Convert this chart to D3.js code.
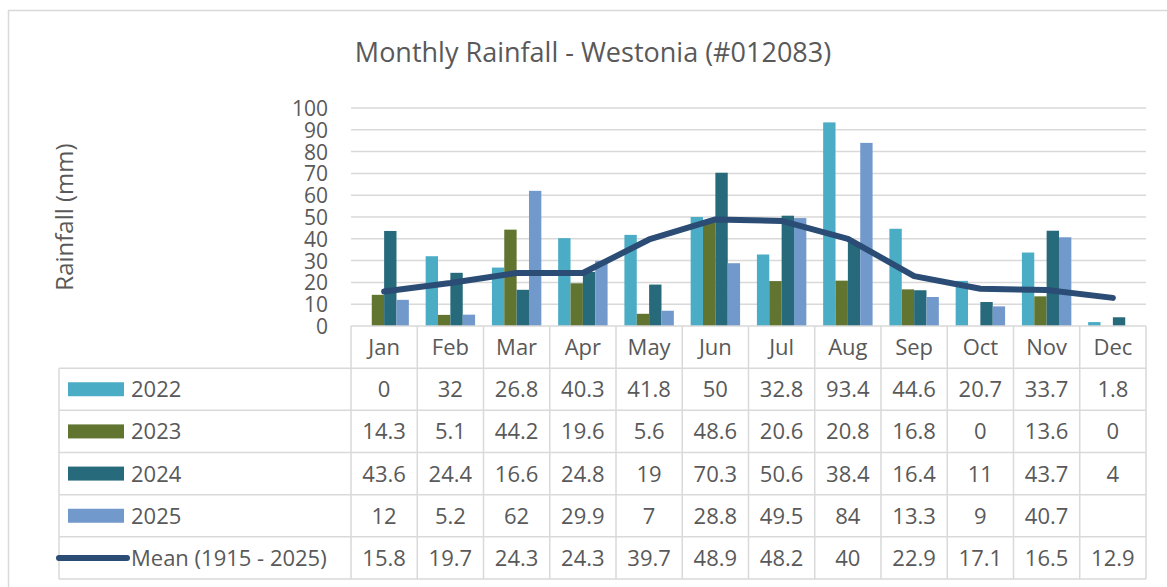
<!DOCTYPE html>
<html>
<head>
<meta charset="utf-8">
<script src="https://cdn.jsdelivr.net/npm/d3@7"></script>
<style>
  body { margin: 0; background: #fff; }
  svg text { font-family: "Open Sans", "Noto Sans", sans-serif; fill: #595959; }
</style>
</head>
<body>
<div id="container"></div>
<script>
// chart data
var months = ["Jan", "Feb", "Mar", "Apr", "May", "Jun", "Jul", "Aug", "Sep", "Oct", "Nov", "Dec"];
var barSeries = ["2022", "2023", "2024", "2025"];
var rain2022 = [0, 32, 26.8, 40.3, 41.8, 50, 32.8, 93.4, 44.6, 20.7, 33.7, 1.8];
var rain2023 = [14.3, 5.1, 44.2, 19.6, 5.6, 48.6, 20.6, 20.8, 16.8, 0, 13.6, 0];
var rain2024 = [43.6, 24.4, 16.6, 24.8, 19, 70.3, 50.6, 38.4, 16.4, 11, 43.7, 4];
var rain2025 = [12, 5.2, 62, 29.9, 7, 28.8, 49.5, 84, 13.3, 9, 40.7, null];
var meanName = "Mean (1915 - 2025)";
var meanRain = [15.8, 19.7, 24.3, 24.3, 39.7, 48.9, 48.2, 40, 22.9, 17.1, 16.5, 12.9];
var yTicks = [0, 10, 20, 30, 40, 50, 60, 70, 80, 90, 100];

var barValues = [rain2022, rain2023, rain2024, rain2025];
var colors = ["#4BACC6", "#617430", "#266A7B", "#7299CC"];
var meanColor = "#2B4C74";
var gridColor = "#D9D9D9";

var width = 1167, height = 587;
var plot = {left: 351, right: 1146, top: 108, bottom: 326};

var svg = d3.select("#container")
  .append("svg")
  .attr("width", width)
  .attr("height", height);

// outer chart frame
svg.append("path")
  .attr("d", "M8.5," + height + "V10.5H" + width)
  .attr("fill", "none")
  .attr("stroke", gridColor)
  .attr("stroke-width", 1.5);

// scales
var x = d3.scaleBand().domain(months).range([plot.left, plot.right]);
var xSub = d3.scaleBand().domain(barSeries).range([0, x.bandwidth()]).paddingOuter(0.68).paddingInner(0);
var y = d3.scaleLinear().domain([0, 100]).range([plot.bottom, plot.top]);

// gridlines
svg.append("g")
  .selectAll("line")
  .data(yTicks.slice(1))
  .enter().append("line")
  .attr("x1", plot.left).attr("x2", plot.right)
  .attr("y1", function(d) { return y(d); })
  .attr("y2", function(d) { return y(d); })
  .attr("stroke", gridColor)
  .attr("stroke-width", 1.5);

// y axis labels
var yAxis = svg.append("g")
  .attr("transform", "translate(" + (plot.left - 23) + ",0)")
  .call(d3.axisLeft(y).tickValues(yTicks).tickSize(0).tickPadding(0));
yAxis.select(".domain").remove();
yAxis.selectAll("text")
  .style("font-size", "21px")
  .style("font-family", "'Open Sans', sans-serif")
  .attr("fill", "#595959")
  .attr("dy", "0.36em");

// y axis title
svg.append("text")
  .attr("transform", "translate(73,217) rotate(-90)")
  .attr("text-anchor", "middle")
  .style("font-size", "24px")
  .text("Rainfall (mm)");

// chart title
svg.append("text")
  .attr("x", 593)
  .attr("y", 62)
  .attr("text-anchor", "middle")
  .style("font-size", "27px")
  .text("Monthly Rainfall - Westonia (#012083)");

// bars
barSeries.forEach(function(s, i) {
  svg.append("g")
    .selectAll("rect")
    .data(months.map(function(m, j) { return {month: m, value: barValues[i][j]}; })
      .filter(function(d) { return d.value != null && d.value > 0; }))
    .enter().append("rect")
    .attr("x", function(d) { return x(d.month) + xSub(s); })
    .attr("width", xSub.bandwidth())
    .attr("y", function(d) { return y(d.value); })
    .attr("height", function(d) { return y(0) - y(d.value); })
    .attr("fill", colors[i]);
});

// mean line
var line = d3.line()
  .x(function(d, j) { return x(months[j]) + x.bandwidth() / 2; })
  .y(function(d) { return y(d); });
svg.append("path")
  .datum(meanRain)
  .attr("d", line)
  .attr("fill", "none")
  .attr("stroke", meanColor)
  .attr("stroke-width", 6)
  .attr("stroke-linejoin", "round")
  .attr("stroke-linecap", "round");

// data table
var rowNames = ["head"].concat(barSeries).concat([meanName]);
var rowValues = barValues.concat([meanRain]);
var row = d3.scaleBand().domain(rowNames).range([plot.bottom, 579]);
var legendLeft = 59;

var table = svg.append("g")
  .attr("fill", "none")
  .attr("stroke", gridColor)
  .attr("stroke-width", 1.5);

// horizontal borders
rowNames.concat(["end"]).forEach(function(r, k) {
  var yy = k < rowNames.length ? row(r) : row.range()[1];
  table.append("line")
    .attr("x1", k === 0 ? plot.left : legendLeft).attr("x2", plot.right)
    .attr("y1", yy).attr("y2", yy);
});
// vertical borders
months.concat(["end"]).forEach(function(m) {
  var xx = m === "end" ? plot.right : x(m);
  table.append("line")
    .attr("x1", xx).attr("x2", xx)
    .attr("y1", plot.bottom).attr("y2", row.range()[1]);
});
table.append("line")
  .attr("x1", legendLeft).attr("x2", legendLeft)
  .attr("y1", row(barSeries[0])).attr("y2", row.range()[1]);

// month headers
svg.append("g")
  .selectAll("text")
  .data(months)
  .enter().append("text")
  .attr("x", function(d) { return x(d) + x.bandwidth() / 2; })
  .attr("y", row("head") + row.bandwidth() / 2)
  .attr("dy", "0.36em")
  .attr("text-anchor", "middle")
  .style("font-size", "22px")
  .text(function(d) { return d; });

// cell values
rowValues.forEach(function(vals, i) {
  var r = rowNames[i + 1];
  svg.append("g")
    .selectAll("text")
    .data(vals)
    .enter().append("text")
    .attr("x", function(d, j) { return x(months[j]) + x.bandwidth() / 2; })
    .attr("y", row(r) + row.bandwidth() / 2)
    .attr("dy", "0.36em")
    .attr("text-anchor", "middle")
    .style("font-size", "22px")
    .text(function(d) { return d == null ? "" : d; });
});

// legend keys
barSeries.forEach(function(s, i) {
  svg.append("rect")
    .attr("x", 68).attr("width", 56)
    .attr("y", row(s) + row.bandwidth() / 2 - 7).attr("height", 14)
    .attr("fill", colors[i]);
});
svg.append("line")
  .attr("x1", 59).attr("x2", 127)
  .attr("y1", row(meanName) + row.bandwidth() / 2)
  .attr("y2", row(meanName) + row.bandwidth() / 2)
  .attr("stroke", meanColor)
  .attr("stroke-width", 6)
  .attr("stroke-linecap", "round");
svg.append("g")
  .selectAll("text")
  .data(rowNames.slice(1))
  .enter().append("text")
  .attr("x", 131)
  .attr("y", function(d) { return row(d) + row.bandwidth() / 2; })
  .attr("dy", "0.36em")
  .style("font-size", "22px")
  .text(function(d) { return d; });
</script>
</body>
</html>
